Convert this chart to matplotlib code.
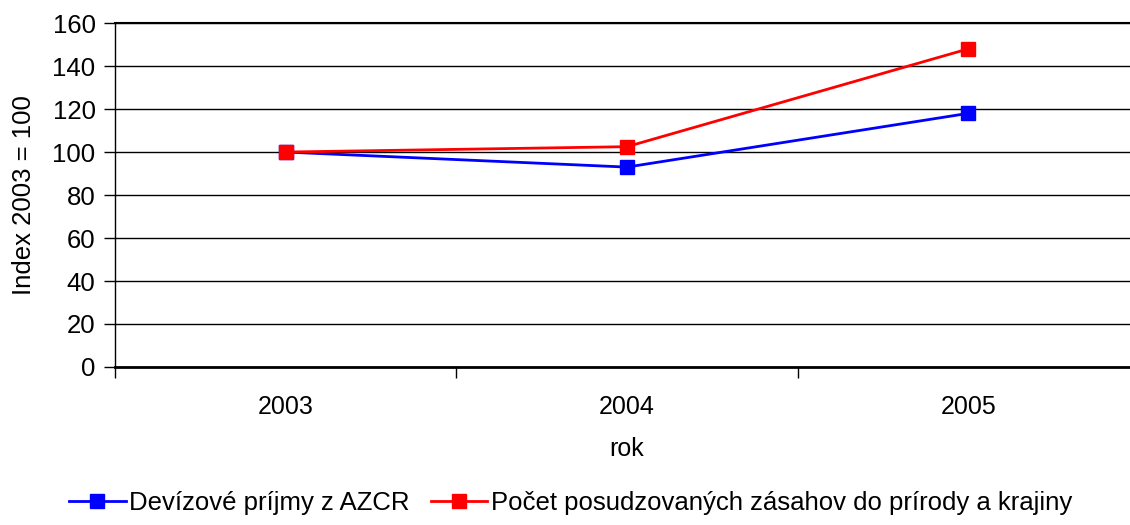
import matplotlib.pyplot as plt
from matplotlib.ticker import FixedLocator

plt.rcParams['font.family'] = ['Liberation Sans', 'DejaVu Sans']

years = ['2003', '2004', '2005']
devizove = [100, 93, 118]
posudzovane = [100, 102.5, 148]
yticks = [0, 20, 40, 60, 80, 100, 120, 140, 160]

fig = plt.figure(figsize=(11.3, 5.25), dpi=100)
ax = fig.add_axes([0.1018, 0.301, 0.906, 0.655])

x = list(range(len(years)))
ax.plot(x, devizove, color='#0000ff', lw=2, marker='s', ms=10,
        label='Devízové príjmy z AZCR', zorder=3)
ax.plot(x, posudzovane, color='#ff0000', lw=2, marker='s', ms=10,
        label='Počet posudzovaných zásahov do prírody a krajiny', zorder=3)

ax.set_xlim(-0.5, len(years) - 0.5)
ax.set_ylim(0, 160)
ax.set_yticks(yticks)
ax.yaxis.grid(True, color='black', lw=1)
ax.set_axisbelow(True)

ax.set_xticks(x)
ax.set_xticklabels(years)
ax.tick_params(axis='x', which='major', length=0, pad=20, labelsize=18)
ax.xaxis.set_minor_locator(FixedLocator([-0.5, 0.5, 1.5, 2.5]))
ax.tick_params(axis='x', which='minor', length=8, width=1, direction='out')
ax.tick_params(axis='y', length=8, width=1, labelsize=18.5, pad=6)

ax.spines['right'].set_visible(False)
ax.spines['top'].set_linewidth(1.5)
ax.spines['left'].set_linewidth(1)
ax.spines['bottom'].set_linewidth(2)

ax.set_xlabel('rok', fontsize=18, labelpad=13)
ax.set_ylabel('Index 2003 = 100', fontsize=18.5, labelpad=12)

fig.legend(loc='lower center', bbox_to_anchor=(0.505, -0.025), ncol=2,
           frameon=False, fontsize=18.5, handlelength=2.2, handletextpad=0.15,
           columnspacing=0.8)

fig.savefig('out.png', dpi=100)
